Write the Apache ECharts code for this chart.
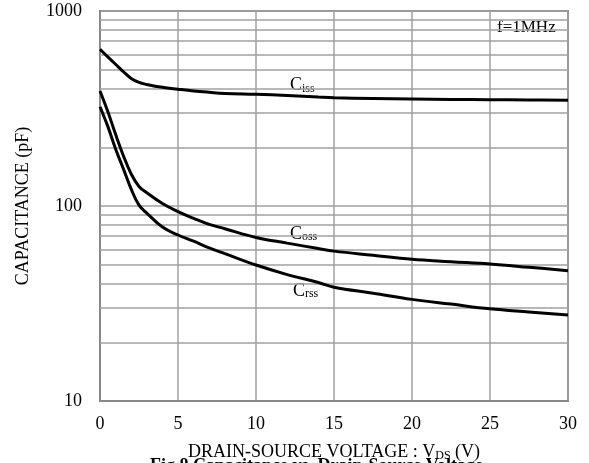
<!DOCTYPE html>
<html>
<head>
<meta charset="utf-8">
<script src="https://cdn.jsdelivr.net/npm/echarts@6/dist/echarts.min.js"></script>
<style>
  html, body { margin: 0; padding: 0; background: #fff; }
  #chart { width: 589px; height: 463px; }
</style>
</head>
<body>
<div id="chart"></div>
<script>
// Drain-source voltage (V) and capacitances (pF), f = 1 MHz
const vds  = [0, 0.5, 1, 1.5, 2, 2.5, 3, 4, 5, 6, 7, 8, 10, 12, 14, 15, 17.5, 20, 22.5, 25, 27.5, 30];
const ciss = [637, 582, 533, 488, 451, 430, 420, 406, 397, 389, 383, 378, 374, 369, 362, 359, 356, 354, 352, 351, 350, 349];
const coss = [389, 305, 233, 181, 146, 126, 117, 103, 93.6, 86.5, 80.5, 76.5, 69, 64.5, 60.5, 58.7, 55.9, 53.3, 51.8, 50.4, 48.5, 46.6];
const crss = [323, 256, 196, 155, 122, 101, 92, 78, 71, 66, 61, 57, 49.8, 44.5, 40.5, 38.3, 35.7, 33.2, 31.4, 29.7, 28.6, 27.6];

// Tick labels and the intermediate decade gridlines
const xTicks = [0, 5, 10, 15, 20, 25, 30];
const yDecades = [10, 100, 1000];
const yMinor = [20, 30, 40, 50, 60, 70, 80, 90, 200, 300, 400, 500, 600, 700, 800, 900];

const FONT = 'Liberation Serif';
const GRID_COLOR = '#a0a0a0';
const AXIS_COLOR = '#888888';

const chart = echarts.init(document.getElementById('chart'), null, { renderer: 'canvas' });

function curve(name, values) {
  return {
    name: name,
    type: 'line',
    data: vds.map((v, i) => [v, values[i]]),
    showSymbol: false,
    smooth: 0.4,
    lineStyle: { color: '#000', width: 3 },
    emphasis: { disabled: true },
    z: 5,
    animation: false
  };
}

chart.setOption({
  animation: false,
  backgroundColor: '#fff',
  grid: {
    left: 100, top: 11, right: 21, bottom: 62,
    outerBoundsMode: 'none',
    containLabel: false,
    show: true, borderColor: AXIS_COLOR, borderWidth: 2, backgroundColor: 'transparent'
  },
  xAxis: {
    type: 'value',
    min: xTicks[0], max: xTicks[xTicks.length - 1], interval: 5,
    axisLine: { lineStyle: { color: AXIS_COLOR, width: 2 } },
    axisTick: { show: false },
    axisLabel: { fontFamily: FONT, fontSize: 18, color: '#000', margin: 14 },
    splitLine: { show: true, lineStyle: { color: GRID_COLOR, width: 1.5 } },
    name: 'DRAIN-SOURCE VOLTAGE : V{s|DS} (V)',
    nameLocation: 'middle',
    nameGap: 41,
    nameTextStyle: {
      fontFamily: FONT, fontSize: 18, color: '#000', lineHeight: 20,
      rich: { s: { fontFamily: FONT, fontSize: 12, lineHeight: 13, verticalAlign: 'bottom', color: '#000' } }
    }
  },
  yAxis: {
    type: 'log', logBase: 10,
    min: yDecades[0], max: yDecades[yDecades.length - 1],
    axisLine: { show: true, lineStyle: { color: AXIS_COLOR, width: 2 } },
    axisTick: { show: false },
    axisLabel: { fontFamily: FONT, fontSize: 18, color: '#000', margin: 18, formatter: v => String(Math.round(v)) },
    splitLine: { show: true, lineStyle: { color: GRID_COLOR, width: 1.5 } },
    name: 'CAPACITANCE (pF)',
    nameLocation: 'middle',
    nameGap: 68,
    nameTextStyle: { fontFamily: FONT, fontSize: 18, color: '#000' }
  },
  series: [
    {
      name: 'minor-grid',
      type: 'line',
      data: [],
      z: 1,
      silent: true,
      markLine: {
        silent: true,
        symbol: ['none', 'none'],
        label: { show: false },
        emphasis: { disabled: true },
        lineStyle: { color: GRID_COLOR, width: 1.5, type: 'solid' },
        data: yMinor.map(v => ({ yAxis: v }))
      }
    },
    curve('Ciss', ciss),
    curve('Coss', coss),
    curve('Crss', crss)
  ]
});

// Curve labels with white boxes that interrupt the gridlines behind them
const rich = {
  c: { fontFamily: FONT, fontSize: 18, lineHeight: 20, verticalAlign: 'bottom', color: '#000' },
  s: { fontFamily: FONT, fontSize: 12, lineHeight: 13, verticalAlign: 'bottom', color: '#000' }
};

function boxedLabel(text, anchor, padding) {
  const p = chart.convertToPixel({ gridIndex: 0 }, anchor);
  return {
    type: 'text',
    x: p[0], y: p[1], z: 3, silent: true,
    style: {
      text: text, rich: rich,
      align: 'left', verticalAlign: 'top',
      backgroundColor: '#fff',
      padding: padding
    }
  };
}

const corner = chart.convertToPixel({ gridIndex: 0 }, [30, 1000]);
const origin = chart.convertToPixel({ gridIndex: 0 }, [0, 10]);

chart.setOption({
  graphic: [
    boxedLabel('{c|C}{s|iss}', [11.28, 477], [1, 9, 2, 14]),
    boxedLabel('{c|C}{s|oss}', [11.47, 85.7], [4, 8, 2, 11]),
    boxedLabel('{c|C}{s|rss}', [11.47, 42.7], [2, 10, 0, 14]),
    {
      type: 'text', z: 3, silent: true,
      x: corner[0] - 77, y: corner[1] + 3,
      style: {
        text: 'f=1MHz', fontFamily: FONT, fontSize: 17, fill: '#000',
        align: 'left', verticalAlign: 'top',
        backgroundColor: '#fff', padding: [5, 8, 5, 6]
      }
    },
    {
      type: 'text', z: 3, silent: true,
      x: 150, y: origin[1] + 56,
      style: {
        text: 'Fig.8 Capacitance vs. Drain-Source Voltage',
        fontFamily: FONT, fontSize: 18, fontWeight: 'bold', fill: '#000',
        align: 'left', verticalAlign: 'top'
      }
    }
  ]
});
</script>
</body>
</html>
